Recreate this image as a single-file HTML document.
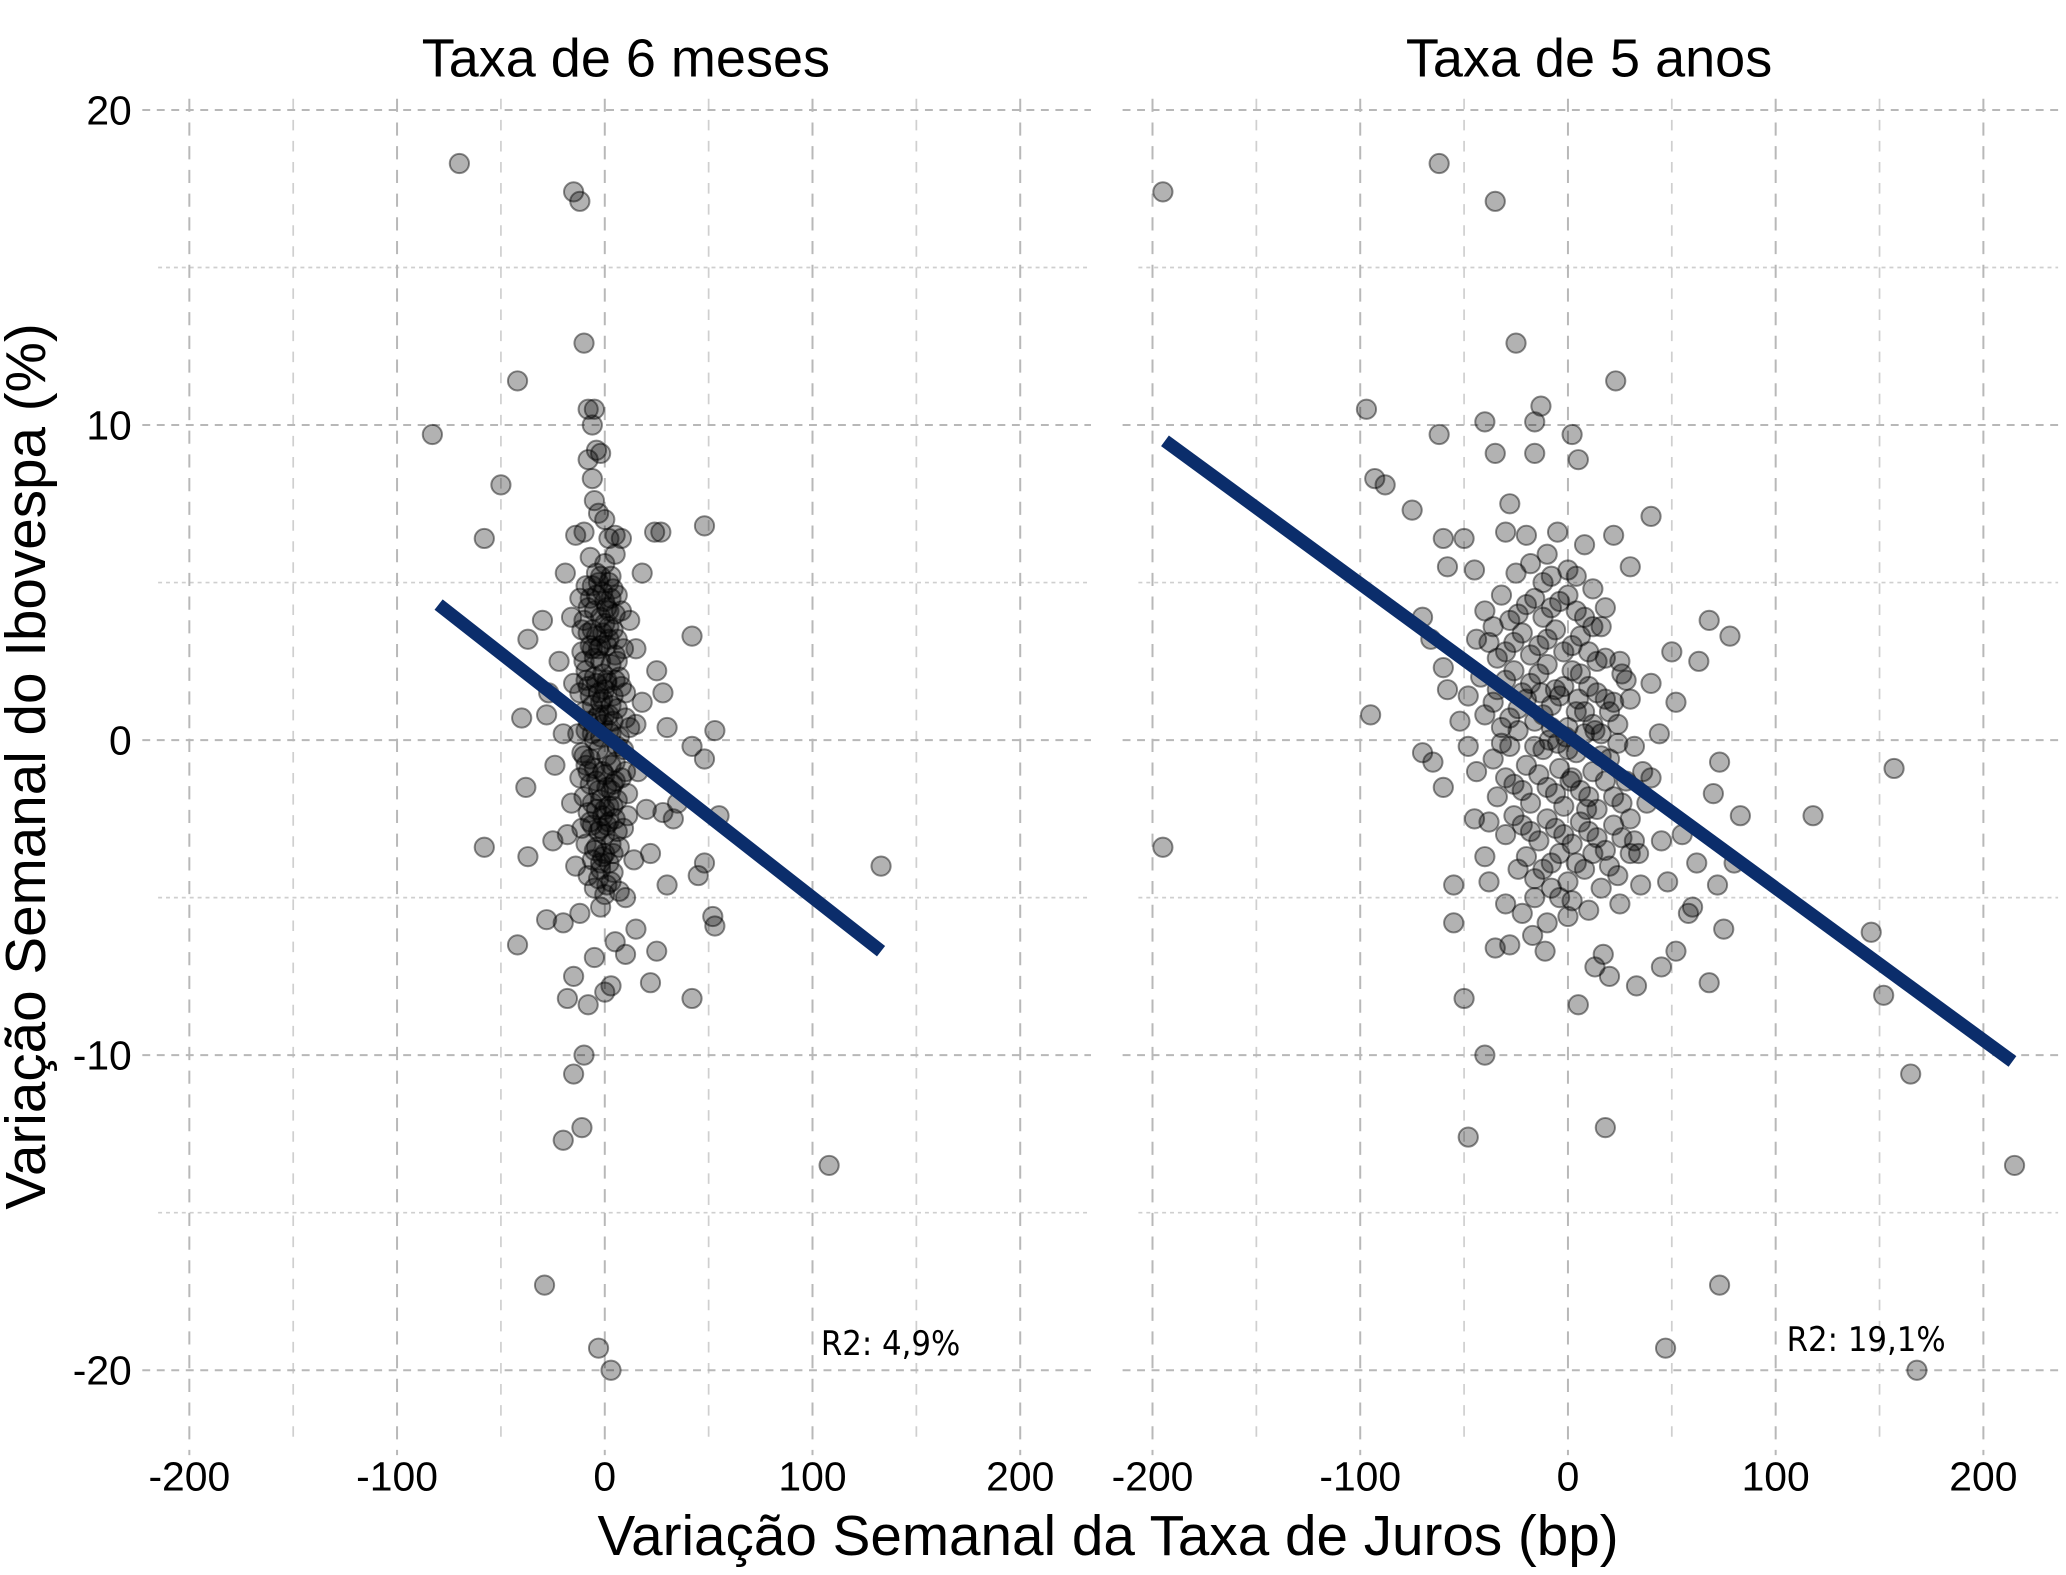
<!DOCTYPE html>
<html><head><meta charset="utf-8"><style>
html,body{margin:0;padding:0;background:#fff;}
svg{display:block;font-family:"Liberation Sans",sans-serif;}
</style></head><body>
<svg id="chart" width="2066" height="1575" viewBox="0 0 1568 1196" preserveAspectRatio="none" xmlns="http://www.w3.org/2000/svg">
<g id="grid"></g>
<g id="points"></g>
<g id="lines"></g>
<g id="labels"></g>
<text x="475" y="58" font-size="41" text-anchor="middle">Taxa de 6 meses</text>
<text x="1206" y="58" font-size="41" text-anchor="middle">Taxa de 5 anos</text>
<text transform="translate(34,582) rotate(-90)" font-size="43" text-anchor="middle">Variação Semanal do Ibovespa (%)</text>
<text x="841" y="1181" font-size="43" text-anchor="middle">Variação Semanal da Taxa de Juros (bp)</text>
<text x="623" y="1029" font-size="26" font-family="'DejaVu Sans Condensed','Liberation Sans Narrow',sans-serif">R2: 4,9%</text>
<text x="1356" y="1026" font-size="26" font-family="'DejaVu Sans Condensed','Liberation Sans Narrow',sans-serif">R2: 19,1%</text>
</svg>
<script>
const xTicks=[-200,-100,0,100,200];
const xMinor=[-150,-50,50,150];
const yTicks=[20,10,0,-10,-20];
const yMinor=[15,5,-5,-15];
const lineLeft=[[-80,4.3],[133,-6.7]];
const lineRight=[[-194,9.5],[214,-10.2]];
const pointsLeft=[[-70,18.3],[-15,17.4],[-12,17.1],[-10,12.6],[-42,11.4],[-83,9.7],[-50,8.1],[-58,6.4],[-8,10.5],[-5,10.5],[-6,10],[-4,9.2],[-8,8.9],[-6,8.3],[-2,9.1],[-5,7.6],[-3,7.2],[0,7],[5,6.5],[48,6.8],[24,6.6],[-14,6.5],[-10,6.6],[2,6.4],[8,6.4],[-30,3.8],[-37,3.2],[-28,0.8],[-40,0.7],[-38,-1.5],[-58,-3.4],[-37,-3.7],[-42,-6.5],[-28,-5.7],[-20,-5.8],[-15,-7.5],[-18,-8.2],[-8,-8.4],[0,-8],[3,-7.8],[22,-7.7],[42,-8.2],[-10,-10],[-15,-10.6],[-20,-12.7],[-11,-12.3],[-29,-17.3],[-3,-19.3],[3,-20],[108,-13.5],[133,-4],[53,0.3],[48,-0.6],[42,-0.2],[55,-2.4],[52,-5.6],[53,-5.9],[48,-3.9],[45,-4.3],[42,3.3],[35,-2],[27,6.6],[18,5.3],[30,-4.6],[25,-6.7],[-25,-3.2],[-22,2.5],[-27,1.5],[-24,-0.8],[20,-2.2],[22,-3.6],[28,-2.3],[33,-2.5],[30,0.4],[28,1.5],[25,2.2],[15,-6],[10,-6.8],[5,-6.4],[-5,-6.9],[-12,-5.5],[-18,-3],[-20,0.2],[-16,3.9],[-19,5.3],[12,3.8],[15,2.9],[18,1.2],[10,-5],[-2,-5.3],
[-12,4.5],[-10,3.8],[-8,4.2],[-6,3.5],[-4,4.6],[-2,3.9],[0,4.4],[2,3.6],[4,4.8],[6,3.2],[8,4.1],[-11,2.8],[-9,2.2],[-7,3],[-5,2.6],[-3,2.9],[-1,2.1],[1,3],[3,2.4],[5,2.7],[7,2],[9,2.9],[-12,1.5],[-10,0.9],[-8,1.7],[-6,1.1],[-4,1.8],[-2,1.2],[0,1.6],[2,0.8],[4,1.4],[6,1],[8,1.7],[10,0.7],[-13,0.2],[-11,-0.4],[-9,0.3],[-7,-0.6],[-5,0],[-3,-0.3],[-1,0.5],[1,-0.5],[3,0.2],[5,-0.7],[7,0.1],[9,-0.3],[12,0.4],[-12,-1.2],[-10,-1.8],[-8,-1],[-6,-2],[-4,-1.3],[-2,-1.9],[0,-1.1],[2,-2.1],[4,-1.4],[6,-1.9],[8,-1.2],[11,-1.7],[-11,-2.8],[-9,-3.3],[-7,-2.6],[-5,-3.5],[-3,-2.9],[-1,-3.7],[1,-2.7],[3,-3.3],[5,-2.5],[7,-3.4],[9,-2.8],[-8,-4.3],[-5,-4.7],[-2,-4.1],[1,-4.6],[4,-4.2],[7,-4.8],[-4,5.3],[0,5.6],[3,5.2],[-7,5.8],[5,5.9],[-14,-4],[14,-3.8],[-15,1.8],[15,0.5],[-16,-2],[16,-1],[-1,3.4],[1,1.9],[-3,0.8],[3,-1.6],[-1,-2.4],[0,-3],[-2,2.5],[2,4.1],
[-9,4.9],[-7,4.5],[-5,4.1],[-3,5.0],[-1,4.7],[1,4.2],[3,4.5],[5,4.0],[-8,3.4],[-6,2.9],[-4,3.3],[-2,3.0],[0,3.7],[2,3.2],[4,3.5],[6,2.5],[-9,1.9],[-7,1.4],[-5,2.0],[-3,1.5],[-1,1.3],[1,1.8],[3,1.1],[5,1.9],[-8,0.6],[-6,0.2],[-4,0.7],[-2,0.1],[0,0.8],[2,0.3],[4,0.6],[6,-0.2],[-9,-0.8],[-7,-1.4],[-5,-0.9],[-3,-1.6],[-1,-1],[1,-1.5],[3,-0.8],[5,-1.3],[-8,-2.3],[-6,-2.7],[-4,-2.2],[-2,-2.8],[0,-2.2],[2,-2.6],[4,-2.1],[6,-2.9],[-6,-3.8],[-4,-3.4],[-2,-3.9],[0,-3.6],[2,-3.9],[4,-3.6],[-3,-4.4],[0,-4.9],[3,-4.5],[-10,2.5],[10,1.5],[-10,-0.5],[10,-1],[-11,3.5],[11,-2.4],[-6,4.9],[6,4.6],[-2,5.2],[2,5.0]];
const pointsRight=[[-195,17.4],[-195,-3.4],[-62,18.3],[-35,17.1],[-25,12.6],[23,11.4],[-97,10.5],[-13,10.6],[-62,9.7],[-40,10.1],[-16,10.1],[2,9.7],[5,8.9],[-35,9.1],[-16,9.1],[-93,8.3],[-88,8.1],[-75,7.3],[-28,7.5],[40,7.1],[22,6.5],[-95,0.8],[-70,-0.4],[-65,-0.7],[-55,-4.6],[-55,-5.8],[-35,-6.6],[-28,-6.5],[-50,-8.2],[-40,-10],[-48,-12.6],[-17,-6.2],[-11,-6.7],[13,-7.2],[17,-6.8],[20,-7.5],[33,-7.8],[45,-7.2],[52,-6.7],[68,-7.7],[75,-6],[5,-8.4],[18,-12.3],[73,-17.3],[47,-19.3],[168,-20],[165,-10.6],[152,-8.1],[146,-6.1],[215,-13.5],[157,-0.9],[118,-2.4],[83,-2.4],[78,3.3],[70,-1.7],[73,-0.7],[68,3.8],[63,2.5],[62,-3.9],[80,-3.9],[72,-4.6],[60,-5.3],[58,-5.5],[48,-4.5],[30,-3.6],[55,-3],[45,-3.2],[40,1.8],[25,2.5],[-60,6.4],[-50,6.4],[-45,5.4],[-58,5.5],[-70,3.9],[-66,3.2],[-60,2.3],[-58,1.6],[-52,0.6],[-48,-0.2],[-60,-1.5],[-45,-2.5],[-40,-3.7],[-38,-4.5],[-30,-5.2],[-22,-5.5],[-10,-5.8],[0,-5.6],[10,-5.4],[25,-5.2],[35,-4.6],[50,2.8],[52,1.2],[-30,6.6],[-20,6.5],[-10,5.9],[-5,6.6],[8,6.2],[-25,5.3],[-12,5],[30,5.5],[18,4.2],
[-40,4.1],[-32,4.6],[-24,4],[-16,4.5],[-8,4.2],[0,4.6],[8,3.9],[16,3.6],[-38,3.1],[-30,2.8],[-22,3.4],[-14,3],[-6,3.5],[2,3],[10,2.8],[18,2.6],[26,2.1],[-42,2],[-34,1.6],[-26,2.2],[-18,1.8],[-10,2.4],[-2,1.7],[6,2.1],[14,1.5],[22,1.2],[30,1.3],[-40,0.8],[-32,0.4],[-24,1],[-16,0.6],[-8,1.1],[0,0.4],[8,0.9],[16,0.2],[24,0.5],[32,-0.2],[-36,-0.6],[-28,-0.2],[-20,-0.8],[-12,-0.3],[-4,-0.9],[4,-0.4],[12,-1],[20,-0.6],[28,-1.3],[36,-1],[-34,-1.8],[-26,-1.4],[-18,-2],[-10,-1.5],[-2,-2.1],[6,-1.6],[14,-2.2],[22,-1.8],[30,-2.5],[38,-2],[-30,-3],[-22,-2.7],[-14,-3.2],[-6,-2.8],[2,-3.3],[10,-2.9],[18,-3.5],[26,-3.1],[34,-3.6],[-24,-4.1],[-16,-4.4],[-8,-3.9],[0,-4.5],[8,-4.1],[16,-4.7],[24,-4.3],[-4,-5],[4,5.2],[-18,5.6],[12,4.8],[-44,3.2],[40,-1.2],[-48,1.4],[44,0.2],[-1,0.1],[1,-1.3],[-5,-0.1],[5,1.3],[-9,0],[9,-2.2],[-13,1.5],[13,0.3],
[-28,3.8],[-20,4.3],[-12,3.9],[-4,4.4],[4,4.1],[12,3.6],[-34,2.6],[-26,3.1],[-18,2.7],[-10,3.2],[-2,2.8],[6,3.3],[14,2.5],[-30,1.9],[-22,1.5],[-14,2.1],[-6,1.6],[2,2.2],[10,1.7],[18,1.3],[-36,1.2],[-28,0.7],[-20,1.3],[-12,0.8],[-4,1.4],[4,0.9],[12,0.5],[20,0.9],[-32,-0.1],[-24,0.3],[-16,-0.2],[-8,0.4],[0,-0.3],[8,0.2],[16,-0.5],[24,-0.1],[-30,-1.2],[-22,-1.6],[-14,-1.1],[-6,-1.7],[2,-1.2],[10,-1.8],[18,-1.3],[26,-2],[-26,-2.4],[-18,-2.9],[-10,-2.5],[-2,-3],[6,-2.6],[14,-3.1],[22,-2.7],[-20,-3.7],[-12,-4.1],[-4,-3.6],[4,-3.9],[12,-3.6],[20,-4],[-16,-5],[-8,-4.7],[2,-5.1],[-38,-2.6],[-44,-1],[32,-3.2],[28,1.9],[-36,3.6],[-8,5.2],[0,5.4]];

const ns="http://www.w3.org/2000/svg";
const panels=[{x0:459,x1:108,x2:828,pts:pointsLeft,line:lineLeft,name:'6m'},{x0:1190,x1:852,x2:1562,pts:pointsRight,line:lineRight,name:'5a'}];
const XS=1.5765, Y0=562, YS=23.925;
function sx(p,v){return p.x0+v*XS;}
function sy(v){return Y0-v*YS;}
function mk(tag,attrs,parent){const e=document.createElementNS(ns,tag);for(const k in attrs)e.setAttribute(k,attrs[k]);parent.appendChild(e);return e;}
const grid=document.getElementById('grid'),pg=document.getElementById('points'),lg=document.getElementById('lines'),lab=document.getElementById('labels');
panels.forEach(p=>{
  yMinor.forEach(v=>{const e=mk('line',{x1:p.x1+12,x2:p.x2,y1:sy(v),y2:sy(v),stroke:'#cfcfcf','stroke-width':1.3,'stroke-dasharray':'3,3'},grid);
    
    });
  xMinor.forEach(v=>{const e=mk('line',{x1:sx(p,v),x2:sx(p,v),y1:75,y2:1095,stroke:'#cfcfcf','stroke-width':1.3,'stroke-dasharray':'8,8'},grid);
    
    });
  yTicks.forEach(v=>{const e=mk('line',{x1:p.x1,x2:p.x2,y1:sy(v),y2:sy(v),stroke:'#b8b8b8','stroke-width':1.5,'stroke-dasharray':'6,5'},grid);
    
    });
  xTicks.forEach(v=>{const e=mk('line',{x1:sx(p,v),x2:sx(p,v),y1:75,y2:1105,stroke:'#b8b8b8','stroke-width':1.5,'stroke-dasharray':'10,8'},grid);
    
    
    const t=mk('text',{x:sx(p,v),y:1132,'font-size':31,'text-anchor':'middle'},lab);t.textContent=v;
    
    });
  p.pts.forEach(d=>{const c=mk('circle',{cx:sx(p,d[0]),cy:sy(d[1]),r:7.3,fill:'rgba(0,0,0,0.3)',stroke:'rgba(0,0,0,0.45)','stroke-width':1.5},pg);
    
    });
  const l=mk('line',{x1:sx(p,p.line[0][0]),y1:sy(p.line[0][1]),x2:sx(p,p.line[1][0]),y2:sy(p.line[1][1]),stroke:'#0b2d6b','stroke-width':10},lg);
  
  
});
yTicks.forEach(v=>{const t=mk('text',{x:100,y:sy(v)+11,'font-size':31,'text-anchor':'end'},lab);t.textContent=v;
  
  });
</script>
</body></html>
